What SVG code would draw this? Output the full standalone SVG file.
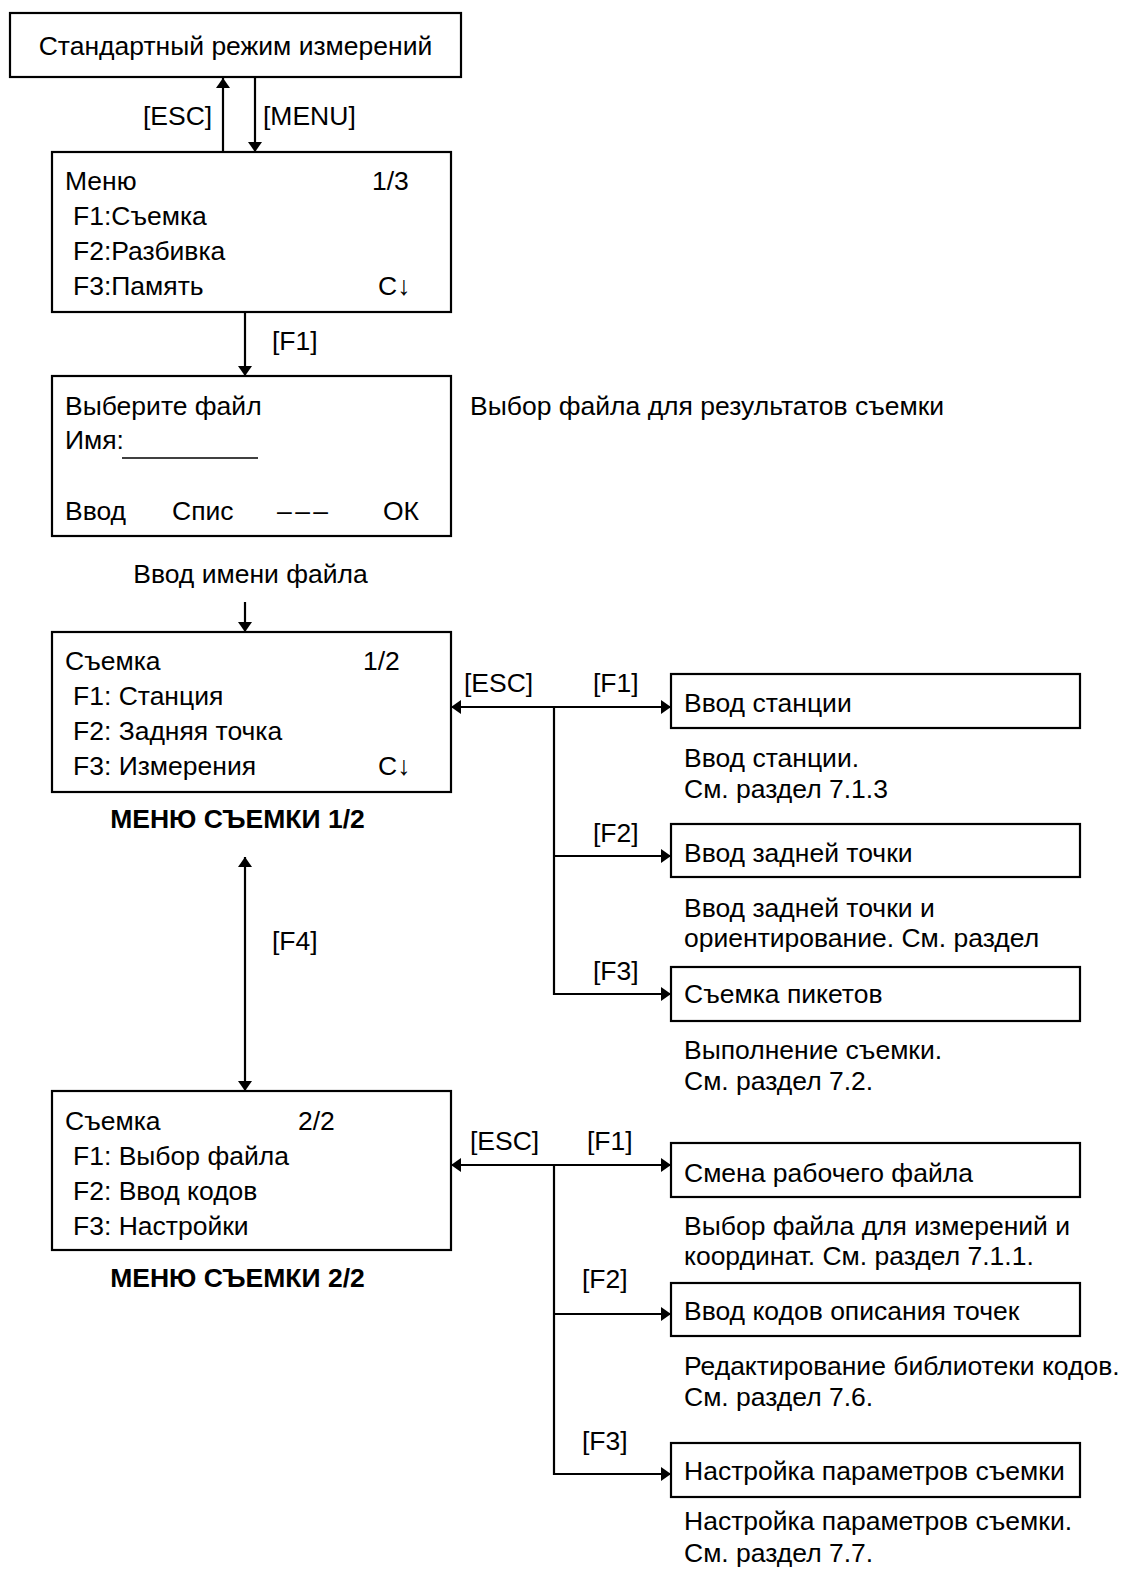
<svg xmlns="http://www.w3.org/2000/svg" width="1126" height="1572" viewBox="0 0 1126 1572">
<style>
text{font-family:"Liberation Sans",Arial,"DejaVu Sans",sans-serif;font-size:26.5px;fill:#000}
.b{font-weight:bold}
.box{fill:#fff;stroke:#000;stroke-width:2.2}
.ln{fill:none;stroke:#000;stroke-width:2.2}
.ul{stroke:#000;stroke-width:1.3}
</style>
<defs>
<marker id="ah" markerUnits="userSpaceOnUse" viewBox="0 0 10 14" refX="10" refY="7" markerWidth="10" markerHeight="14" orient="auto-start-reverse">
<path d="M0,0 L10,7 L0,14 z" fill="#000"/>
</marker>
</defs>
<rect width="1126" height="1572" fill="#fff"/>

<g id="connectors">
<line class="ln" x1="223" y1="152" x2="223" y2="78" marker-end="url(#ah)"/>
<line class="ln" x1="255" y1="78" x2="255" y2="152" marker-end="url(#ah)"/>
<line class="ln" x1="245" y1="312" x2="245" y2="376" marker-end="url(#ah)"/>
<line class="ln" x1="245" y1="602" x2="245" y2="632" marker-end="url(#ah)"/>
<line class="ln" x1="245" y1="857" x2="245" y2="1091" marker-start="url(#ah)" marker-end="url(#ah)"/>
<line class="ln" x1="451" y1="707" x2="671" y2="707" marker-start="url(#ah)" marker-end="url(#ah)"/>
<polyline class="ln" points="554,707 554,994 671,994" marker-end="url(#ah)"/>
<line class="ln" x1="554" y1="856" x2="671" y2="856" marker-end="url(#ah)"/>
<line class="ln" x1="451" y1="1165" x2="671" y2="1165" marker-start="url(#ah)" marker-end="url(#ah)"/>
<polyline class="ln" points="554,1165 554,1474 671,1474" marker-end="url(#ah)"/>
<line class="ln" x1="554" y1="1314" x2="671" y2="1314" marker-end="url(#ah)"/>
<text x="143" y="125">[ESC]</text>
<text x="263" y="125">[MENU]</text>
<text x="272" y="350">[F1]</text>
<text x="272" y="950">[F4]</text>
<text x="464" y="692">[ESC]</text>
<text x="593" y="692">[F1]</text>
<text x="593" y="842">[F2]</text>
<text x="593" y="980">[F3]</text>
<text x="470" y="1150">[ESC]</text>
<text x="587" y="1150">[F1]</text>
<text x="582" y="1288">[F2]</text>
<text x="582" y="1450">[F3]</text>
</g>

<g id="standard-mode">
<rect class="box" x="10" y="13" width="451" height="64"/>
<text x="235.5" y="55" text-anchor="middle">Стандартный режим измерений</text>
</g>

<g id="menu">
<rect class="box" x="52" y="152" width="399" height="160"/>
<text x="65" y="190">Меню</text>
<text x="372" y="190">1/3</text>
<text x="73" y="225">F1:Съемка</text>
<text x="73" y="260">F2:Разбивка</text>
<text x="73" y="295">F3:Память</text>
<text x="378" y="295">C↓</text>
</g>

<g id="select-file">
<rect class="box" x="52" y="376" width="399" height="160"/>
<text x="65" y="415">Выберите файл</text>
<text x="65" y="449">Имя:</text>
<line class="ul" x1="122" y1="458" x2="258" y2="458"/>
<text x="65" y="520">Ввод</text>
<text x="172" y="520">Спис</text>
<text x="277" y="520" textLength="51" lengthAdjust="spacing">–––</text>
<text x="383" y="520">ОК</text>
</g>

<text id="note-file" x="470" y="415">Выбор файла для результатов съемки</text>
<text id="note-name" x="250.5" y="583" text-anchor="middle">Ввод имени файла</text>

<g id="survey-menu-1">
<rect class="box" x="52" y="632" width="399" height="160"/>
<text x="65" y="670">Съемка</text>
<text x="363" y="670">1/2</text>
<text x="73" y="705">F1: Станция</text>
<text x="73" y="740">F2: Задняя точка</text>
<text x="73" y="775">F3: Измерения</text>
<text x="378" y="775">C↓</text>
<text class="b" x="237.5" y="828" text-anchor="middle">МЕНЮ СЪЕМКИ 1/2</text>
</g>

<g id="survey-menu-2">
<rect class="box" x="52" y="1091" width="399" height="159"/>
<text x="65" y="1130">Съемка</text>
<text x="298" y="1130">2/2</text>
<text x="73" y="1165">F1: Выбор файла</text>
<text x="73" y="1200">F2: Ввод кодов</text>
<text x="73" y="1235">F3: Настройки</text>
<text class="b" x="237.5" y="1287" text-anchor="middle">МЕНЮ СЪЕМКИ 2/2</text>
</g>

<g id="station">
<rect class="box" x="671" y="674" width="409" height="54"/>
<text x="684" y="712">Ввод станции</text>
<text x="684" y="767">Ввод станции.</text>
<text x="684" y="798">См. раздел 7.1.3</text>
</g>

<g id="backsight">
<rect class="box" x="671" y="824" width="409" height="53"/>
<text x="684" y="862">Ввод задней точки</text>
<text x="684" y="917">Ввод задней точки и</text>
<text x="684" y="947">ориентирование. См. раздел</text>
</g>

<g id="pickets">
<rect class="box" x="671" y="967" width="409" height="54"/>
<text x="684" y="1003">Съемка пикетов</text>
<text x="684" y="1059">Выполнение съемки.</text>
<text x="684" y="1090">См. раздел 7.2.</text>
</g>

<g id="change-file">
<rect class="box" x="671" y="1143" width="409" height="54"/>
<text x="684" y="1182">Смена рабочего файла</text>
<text x="684" y="1235">Выбор файла для измерений и</text>
<text x="684" y="1265">координат. См. раздел 7.1.1.</text>
</g>

<g id="codes">
<rect class="box" x="671" y="1283" width="409" height="53"/>
<text x="684" y="1320">Ввод кодов описания точек</text>
<text x="684" y="1375">Редактирование библиотеки кодов.</text>
<text x="684" y="1406">См. раздел 7.6.</text>
</g>

<g id="settings">
<rect class="box" x="671" y="1443" width="409" height="54"/>
<text x="684" y="1480">Настройка параметров съемки</text>
<text x="684" y="1530">Настройка параметров съемки.</text>
<text x="684" y="1562">См. раздел 7.7.</text>
</g>
</svg>
